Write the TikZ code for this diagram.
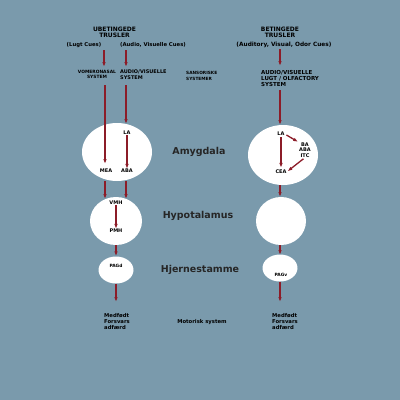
\documentclass[tikz,border=0pt]{standalone}
\usepackage{fontspec}
\setmainfont{DejaVu Sans}
\usetikzlibrary{shapes.geometric,arrows.meta}
\definecolor{bgblue}{RGB}{122,154,172}
\definecolor{darkred}{RGB}{140,28,40}
\begin{document}
\begin{tikzpicture}[x=1pt,y=-1pt]
        \fill[bgblue] (0,0) rectangle (400,400);
        \useasboundingbox (0,0) rectangle (400,400);
        \tikzstyle{every node}=[font=\bfseries\fontsize{5.3}{6}\selectfont, inner sep=0pt]
        \tikzstyle{head}=[font=\bfseries\fontsize{6}{6}\selectfont, align=center]
        \tikzstyle{lbl}=[font=\bfseries\fontsize{5}{5.5}\selectfont]
        \tikzstyle{tiny}=[font=\bfseries\fontsize{4.4}{5.5}\selectfont]
        \tikzstyle{region}=[font=\bfseries\fontsize{9.5}{11}\selectfont, text=black!85]
        \tikzstyle{blob}=[ellipse, fill=white]
        \tikzstyle{path}=[draw=darkred, line width=1.3pt, -{Latex[length=5pt,width=3.5pt]}]
        % ellipses
        \node[blob, minimum width=70, minimum height=58] (amyL) at (117,152) {};
        \node[blob, minimum width=52, minimum height=48] (hypL) at (116,221) {};
        \node[blob, minimum width=35, minimum height=27] (pagL) at (116,270) {};
        \node[blob, minimum width=70, minimum height=60] (amyR) at (283,155) {};
        \node[blob, minimum width=50, minimum height=48] (hypR) at (281,221) {};
        \node[blob, minimum width=35, minimum height=27] (pagR) at (280,268) {};
        % left column texts
        \node[head] (ubet)  at (114.5,32) {UBETINGEDE\\TRUSLER};
        \node (lugt)  at (84,45)    {(Lugt Cues)};
        \node (audio) at (153,45) {(Audio, Visuelle Cues)};
        \node[tiny, align=center] (vomero) at (97,74.5) {VOMERONASAL\\SYSTEM};
        \node[font=\bfseries\fontsize{5}{5.5}\selectfont, align=left, anchor=west] (avsys) at (120,74.5) {AUDIO/VISUELLE\\SYSTEM};
        \node[font=\bfseries\fontsize{4.3}{5.5}\selectfont, align=left, anchor=west] (sans) at (186,76) {SANSORISKE\\SYSTEMER};
        \node[lbl] (laL)  at (127,133) {LA};
        \node[lbl] (mea)  at (106,171) {MEA};
        \node[lbl] (abaL) at (127,171) {ABA};
        \node[lbl] (vmh)  at (116,203) {VMH};
        \node[lbl] (pmh)  at (116,231) {PMH};
        \node[tiny] (pagd) at (116,266) {PAGd};
        \node[align=left, anchor=north west] (medL) at (104,313) {Medfødt\\Forsvars\\adfærd};
        \node (motor) at (202,322) {Motorisk system};
        % region names
        \node[region] (amyg) at (199,152) {Amygdala};
        \node[region] (hypo) at (198,216) {Hypotalamus};
        \node[region] (hjer) at (200,270) {Hjernestamme};
        % right column texts
        \node[head] (bet) at (280,32) {BETINGEDE\\TRUSLER};
        \node[font=\bfseries\fontsize{5.8}{6}\selectfont] (odor) at (284,45) {(Auditory, Visual, Odor Cues)};
        \node[align=left, anchor=west, font=\bfseries\fontsize{5.5}{6}\selectfont] (olf) at (261,78) {AUDIO/VISUELLE\\LUGT / OLFACTORY\\SYSTEM};
        \node[lbl] (laR)  at (281,134) {LA};
        \node[lbl, align=center] (ba) at (305,150) {BA\\ABA\\ITC};
        \node[lbl] (cea)  at (281,172) {CEA};
        \node[tiny] (pagv) at (281,275) {PAGv};
        \node[align=left, anchor=north west] (medR) at (272,313) {Medfødt\\Forsvars\\adfærd};
        % arrow end points
        \coordinate (l1) at (104,50);  \coordinate (l2) at (104,67);
        \coordinate (r1) at (126,50);  \coordinate (r2) at (126,67);
        \coordinate (l3) at (105,85);  \coordinate (l4) at (105,164);
        \coordinate (r3) at (126,85);  \coordinate (r4) at (126,124);
        \coordinate (l5) at (105,181); \coordinate (l6) at (105,199);
        \coordinate (r5) at (126,181); \coordinate (r6) at (126,199);
        \coordinate (c1) at (280,49);  \coordinate (c2) at (280,66);
        \coordinate (c3) at (280,90);  \coordinate (c4) at (280,125);
        \coordinate (c5) at (280,185); \coordinate (c6) at (280,197);
        \coordinate (c7) at (280,245); \coordinate (c8) at (280,255);
        \coordinate (out1) at (116,302);
        \coordinate (out2) at (280,302);
        % connectors
        \draw[path] (l1) -- (l2);
        \draw[path] (r1) -- (r2);
        \draw[path] (l3) -- (l4);
        \draw[path] (r3) -- (r4);
        \draw[path] (laL) -- (abaL);
        \draw[path] (l5) -- (l6);
        \draw[path] (r5) -- (r6);
        \draw[path] (vmh) -- (pmh);
        \draw[path] (hypL) -- (pagL);
        \draw[path] (pagL) -- (out1);
        \draw[path] (c1) -- (c2);
        \draw[path] (c3) -- (c4);
        \draw[path, shorten <=2pt, shorten >=1pt] (laR.east) -- (ba.north west);
        \draw[path, shorten <=1pt, shorten >=2pt] (laR) -- (cea);
        \draw[path, shorten <=2pt, shorten >=1pt] (ba.south) -- (cea.east);
        \draw[path] (c5) -- (c6);
        \draw[path] (c7) -- (c8);
        \draw[path] (pagR) -- (out2);
\end{tikzpicture}
\end{document}
